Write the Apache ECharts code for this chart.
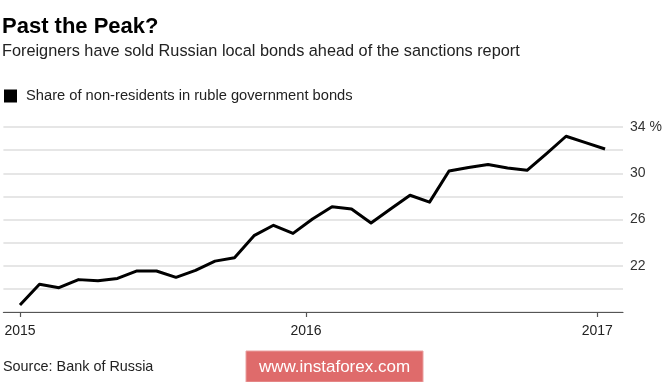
<!DOCTYPE html>
<html>
<head>
<meta charset="utf-8">
<script src="https://cdn.jsdelivr.net/npm/echarts@6/dist/echarts.min.js"></script>
<style>
html,body{margin:0;padding:0;background:#fff;}
#chart{width:665px;height:382px;}
</style>
</head>
<body>
<div id="chart"></div>
<script>
// ---- data ----
const seriesName = 'Share of non-residents in ruble government bonds';
const shareValues = [18.6, 20.4, 20.1, 20.8, 20.7, 20.9, 21.55, 21.55, 21.0, 21.6,
  22.4, 22.7, 24.6, 25.5, 24.8, 26.05, 27.1, 26.9, 25.7, 26.9,
  28.1, 27.5, 30.2, 30.5, 30.75, 30.45, 30.25, 31.7, 33.2, 32.65, 32.1];
const yearLabels = ['2015', '2016', '2017'];
const yearTickAt = [0, 14.67, 29.6];          // point index at which each year tick sits
const yLabelValues = [22, 26, 30, 34];

const titleText = 'Past the Peak?';
const subtitleText = 'Foreigners have sold Russian local bonds ahead of the sanctions report';
const sourceText = 'Source: Bank of Russia';
const watermarkText = 'www.instaforex.com';

const FONT = '"Liberation Sans", Arial, Helvetica, sans-serif';

const chart = echarts.init(document.getElementById('chart'), null, {renderer: 'canvas'});

const option = {
  backgroundColor: '#ffffff',
  animation: false,
  grid: {left: 3.4, right: 42, top: 127, bottom: 70, containLabel: false},
  legend: {
    show: true,
    left: 4, top: 88.5,
    padding: 0,
    icon: 'rect',
    itemWidth: 13, itemHeight: 13,
    textStyle: {fontFamily: FONT, fontSize: 14.7, color: '#222', padding: [0, 0, 0, 4]},
    data: [seriesName]
  },
  xAxis: {
    type: 'value',
    min: -0.85, max: 30.92,
    axisLine: {show: true, lineStyle: {color: '#555', width: 1.2}},
    axisTick: {show: true, length: 5, lineStyle: {color: '#555', width: 1.2}, customValues: yearTickAt},
    axisLabel: {
      show: true,
      customValues: yearTickAt,
      margin: 12,
      fontFamily: FONT, fontSize: 14, color: '#222',
      formatter: function (v) {
        const i = yearTickAt.findIndex(p => Math.abs(p - v) < 1e-6);
        return i >= 0 ? yearLabels[i] : '';
      }
    },
    splitLine: {show: false}
  },
  yAxis: {
    type: 'value',
    position: 'right',
    min: 18, max: 34, interval: 2,
    axisLine: {show: false},
    axisTick: {show: false},
    axisLabel: {
      margin: 7,
      fontFamily: FONT, fontSize: 14, color: '#333',
      formatter: function (v) {
        if (yLabelValues.indexOf(v) < 0) return '';
        return v === 34 ? v + ' %' : String(v);
      }
    },
    splitLine: {show: true, lineStyle: {color: '#dedede', width: 1.6}}
  },
  series: [{
    name: seriesName,
    type: 'line',
    data: shareValues.map((v, i) => [i, v]),
    showSymbol: false,
    symbol: 'none',
    color: '#000',
    lineStyle: {color: '#000', width: 3, join: 'round'},
    z: 5
  }],
  graphic: [
    {type: 'text', left: 2, top: 15.5, style: {text: titleText, font: 'bold 22px ' + FONT, fill: '#000'}},
    {type: 'text', left: 2, top: 44, style: {text: subtitleText, font: '16.3px ' + FONT, fill: '#222'}},
    {type: 'text', left: 3, top: 360, style: {text: sourceText, font: '14.4px ' + FONT, fill: '#222'}},
    {type: 'rect', shape: {x: 246, y: 351, width: 177, height: 31},
      style: {fill: '#df6b6b', stroke: '#eaa0a0', lineWidth: 1}},
    {type: 'text', x: 334.5, y: 367, style: {text: watermarkText, font: '17px ' + FONT, fill: '#fff', align: 'center', verticalAlign: 'middle'}}
  ]
};
chart.setOption(option);
</script>
</body>
</html>
